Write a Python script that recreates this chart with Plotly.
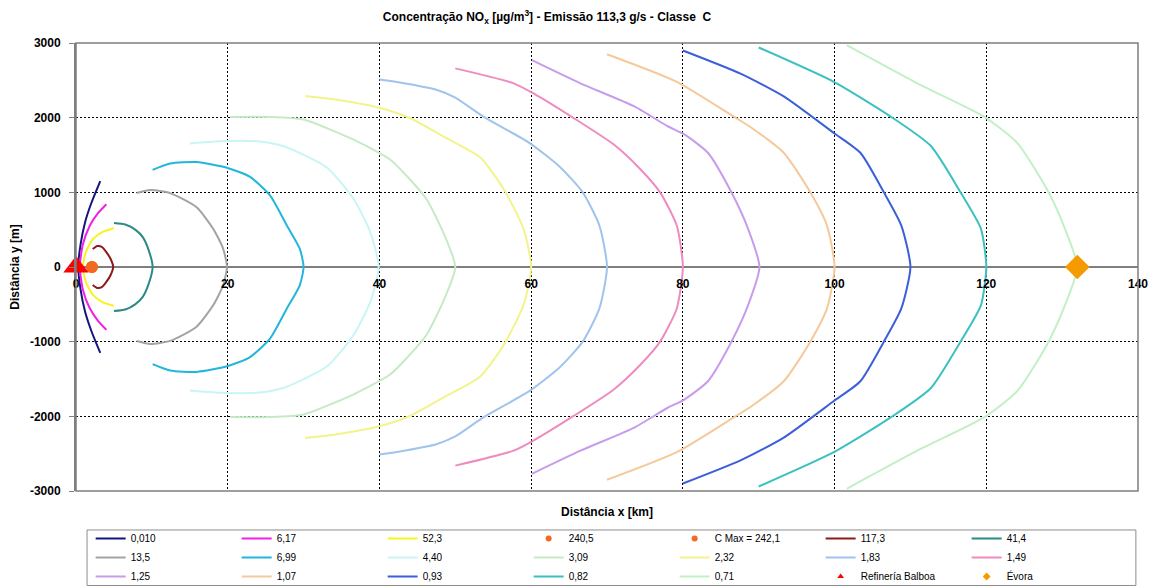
import plotly.graph_objects as go

# Isolines of NOx concentration (upper half, y >= 0); the lower half is the mirror image
levels = ["0,010", "6,17", "52,3", "117,3", "41,4", "13,5", "6,99", "4,40", "3,09",
          "2,32", "1,83", "1,49", "1,25", "1,07", "0,93", "0,82", "0,71"]

x_0010 = [0.3, 0.6, 1.2, 2.0, 3.2]
y_0010 = [0, 300, 600, 850, 1150]
x_617 = [0.5, 0.9, 1.8, 2.9, 4.0]
y_617 = [0, 300, 550, 720, 840]
x_523 = [0.9, 1.3, 2.2, 3.5, 5.0]
y_523 = [0, 200, 370, 470, 520]
x_1173 = [4.9, 4.6, 4.0, 3.4, 2.8, 2.2]
y_1173 = [0, 100, 200, 270, 280, 240]
x_414 = [10.1, 9.6, 8.8, 7.8, 6.5, 5.0]
y_414 = [0, 220, 400, 500, 570, 590]
x_135 = [19.9, 19.4, 18.1, 15.9, 12.4, 9.8, 8.0]
y_135 = [0, 245, 510, 800, 990, 1030, 990]
x_699 = [30.0, 29.5, 27.8, 25.6, 22.9, 19.9, 15.9, 12.4, 10.1]
y_699 = [0, 245, 555, 955, 1210, 1330, 1405, 1385, 1300]
x_440 = [39.9, 38.8, 36.6, 33.1, 27.3, 23.8, 19.0, 15.0]
y_440 = [0, 465, 910, 1330, 1620, 1685, 1685, 1655]
x_309 = [50.0, 48.4, 46.2, 44.0, 41.4, 36.6, 30.0, 25.6, 20.3]
y_309 = [0, 465, 910, 1175, 1440, 1705, 1975, 2010, 2010]
x_232 = [60.0, 59.0, 56.4, 53.3, 48.4, 44.0, 40.1, 34.4, 30.2]
y_232 = [0, 510, 1040, 1465, 1750, 1995, 2130, 2240, 2290]
x_183 = [70.0, 69.0, 66.8, 63.7, 59.8, 53.7, 50.0, 47.6, 42.7, 40.0]
y_183 = [0, 555, 1000, 1350, 1660, 2015, 2270, 2370, 2470, 2510]
x_149 = [80.0, 79.2, 77.0, 74.4, 70.9, 65.6, 60.3, 57.7, 50.0]
y_149 = [0, 555, 1000, 1310, 1640, 1995, 2325, 2460, 2660]
x_125 = [90.1, 88.6, 86.4, 83.3, 80.2, 78.0, 73.6, 66.5, 60.1]
y_125 = [0, 510, 1000, 1530, 1775, 1885, 2150, 2460, 2770]
x_107 = [100.0, 99.0, 96.8, 93.3, 88.9, 86.7, 79.2, 70.0]
y_107 = [0, 555, 1000, 1530, 1875, 2015, 2480, 2850]
x_093 = [110.0, 108.8, 106.5, 103.4, 99.9, 93.3, 87.6, 80.0]
y_093 = [0, 555, 1000, 1530, 1795, 2285, 2590, 2900]
x_082 = [120.0, 119.3, 116.6, 112.7, 107.4, 99.9, 90.0]
y_082 = [0, 510, 1000, 1620, 2015, 2480, 2940]
x_071 = [132.0, 130.2, 128.0, 124.1, 119.7, 110.9, 101.6]
y_071 = [0, 555, 1040, 1660, 2015, 2460, 2970]

iso_x = [x_0010, x_617, x_523, x_1173, x_414, x_135, x_699, x_440, x_309,
         x_232, x_183, x_149, x_125, x_107, x_093, x_082, x_071]
iso_y = [y_0010, y_617, y_523, y_1173, y_414, y_135, y_699, y_440, y_309,
         y_232, y_183, y_149, y_125, y_107, y_093, y_082, y_071]
iso_colors = ["#15157f", "#f020e6", "#f5f51e", "#8c1c1c", "#2a8a84", "#a3a3a3",
              "#22b6dc", "#c9f5f5", "#c6eac6", "#f3f38c", "#a0c4ec", "#ef8cbf",
              "#c79ceb", "#f5c99c", "#3c5fd9", "#3cc0c0", "#c2f0c6"]

# Point features
cmax_label = "C Max = 242,1"
cmax_x, cmax_y = [2.1], [0]
p2405_label = "240,5"
p2405_x, p2405_y = [2.1], [0]
source_label = "Refinería Balboa"
source_x, source_y = [0], [0]
evora_label = "Évora"
evora_x, evora_y = [132], [0]

# Axis ticks
x_ticks = [0, 20, 40, 60, 80, 100, 120, 140]
y_ticks = [-3000, -2000, -1000, 0, 1000, 2000, 3000]
y_ticktext = ["-3000", "-2000", "-1000", "0", "1000", "2000", "3000"]

# Legend layout order (7 columns, row by row)
legend_order = ["0,010", "6,17", "52,3", "240,5", "C Max = 242,1", "117,3", "41,4",
                "13,5", "6,99", "4,40", "3,09", "2,32", "1,83", "1,49",
                "1,25", "1,07", "0,93", "0,82", "0,71", "Refinería Balboa", "Évora"]

FONT = "Liberation Sans, Arial, sans-serif"
fig = go.Figure()


def full_curve(xs, ys):
    # upper half reversed, then lower half mirrored
    xu = list(reversed(xs))
    yu = list(reversed(ys))
    return xu + xs[1:], yu + [-v for v in ys[1:]]


iso_traces = {}
for name, xs, ys, col in zip(levels, iso_x, iso_y, iso_colors):
    fx, fy = full_curve(xs, ys)
    iso_traces[name] = go.Scatter(
        x=fx, y=fy, mode="lines", name=name,
        line=dict(color=col, width=2, shape="spline", smoothing=0.6),
        hoverinfo="skip",
    )

point_legend = {
    "240,5": dict(symbol="circle", color="#f26a1f"),
    "C Max = 242,1": dict(symbol="circle", color="#f26a1f"),
    "Refinería Balboa": dict(symbol="triangle-up", color="#ff0000"),
    "Évora": dict(symbol="diamond", color="#f59b00"),
}

for name in legend_order:
    if name in iso_traces:
        fig.add_trace(iso_traces[name])
    else:
        st = point_legend[name]
        fig.add_trace(go.Scatter(
            x=[None], y=[None], mode="markers", name=name,
            marker=dict(symbol=st["symbol"], color=st["color"], size=6),
        ))

# Large markers drawn on top of the isolines
fig.add_trace(go.Scatter(x=p2405_x, y=p2405_y, mode="markers", showlegend=False,
                         cliponaxis=False,
                         marker=dict(symbol="circle", color="#f26a1f", size=12)))
fig.add_trace(go.Scatter(x=cmax_x, y=cmax_y, mode="markers", showlegend=False,
                         cliponaxis=False,
                         marker=dict(symbol="circle", color="#f26a1f", size=12)))
fig.add_trace(go.Scatter(x=evora_x, y=evora_y, mode="markers", showlegend=False,
                         cliponaxis=False,
                         marker=dict(symbol="diamond", color="#f59b00", size=19)))
fig.add_trace(go.Scatter(x=source_x, y=source_y, mode="markers", showlegend=False,
                         cliponaxis=False,
                         marker=dict(symbol="triangle-up", color="#ff0000", size=22)))

grid = dict(showgrid=True, gridcolor="#000000", gridwidth=1, griddash="2px,2px")

fig.update_layout(
    width=1157, height=586,
    margin=dict(l=76, r=19, t=43, b=95, autoexpand=False),
    paper_bgcolor="white", plot_bgcolor="white",
    font=dict(family=FONT, color="#000000"),
    title=dict(
        text="Concentração NO<sub>x</sub> [µg/m<sup>3</sup>] - Emissão 113,3 g/s - Classe  C",
        x=547 / 1157, xref="container", xanchor="center",
        y=1 - 17 / 586, yref="container", yanchor="middle",
        font=dict(size=12, weight="bold", family=FONT),
    ),
    xaxis=dict(
        range=[0, 140], tickvals=x_ticks,
        anchor="free", position=0.5, showline=False, zeroline=False,
        ticks="", ticklabelstandoff=8, automargin=False,
        tickfont=dict(size=12, weight="bold", family=FONT),
        **grid,
    ),
    yaxis=dict(
        range=[-3000, 3000], tickvals=y_ticks, ticktext=y_ticktext,
        zeroline=True, zerolinecolor="#7f7f7f", zerolinewidth=2,
        showline=True, linecolor="#7f7f7f", linewidth=2,
        ticks="outside", ticklen=5, tickcolor="#7f7f7f", ticklabelstandoff=6,
        automargin=False,
        tickfont=dict(size=12, weight="bold", family=FONT),
        title=dict(text="Distância y [m]", standoff=8,
                   font=dict(size=12, weight="bold", family=FONT)),
        **grid,
    ),
    legend=dict(
        orientation="h", x=0.0138, xanchor="left", y=-0.0737, yanchor="top",
        entrywidth=101, entrywidthmode="pixels",
        borderwidth=0, bgcolor="rgba(0,0,0,0)",
        font=dict(size=10, family=FONT), tracegroupgap=0,
        traceorder="normal",
    ),
    showlegend=True,
)

# Plot frame
fig.add_shape(type="rect", xref="paper", yref="paper", x0=0, y0=0, x1=1, y1=1,
              line=dict(color="#7f7f7f", width=1.5), layer="above")

# Legend frame
fig.add_shape(type="rect", xref="paper", yref="paper",
              x0=0.0104, x1=0.998, y0=-0.2109, y1=-0.087,
              line=dict(color="#8c8c8c", width=1))

# Horizontal axis title
fig.add_annotation(text="Distância x [km]", xref="paper", yref="paper",
                   x=0.5, y=-0.047, xanchor="center", yanchor="middle", showarrow=False,
                   font=dict(size=12, weight="bold", family=FONT))

fig.write_html("out.html")
